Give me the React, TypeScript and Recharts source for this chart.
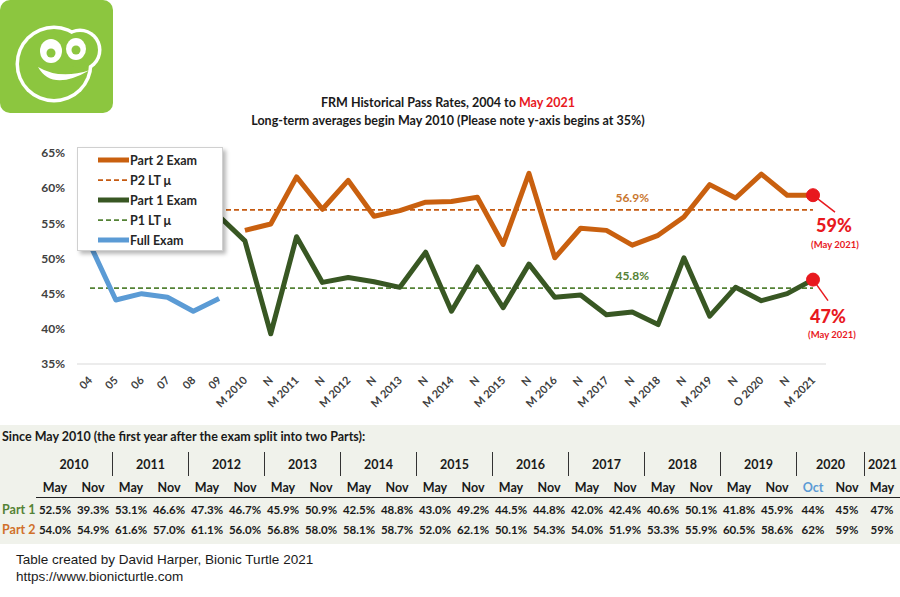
import React from 'react';
import { LineChart, Line, XAxis, YAxis, Legend, ReferenceLine, ReferenceDot } from 'recharts';

// x categories: single exam 2004-09, then May/Nov sittings (Oct in 2020)
const periods = ['04', '05', '06', '07', '08', '09', 'M 2010', 'N', 'M 2011', 'N', 'M 2012', 'N', 'M 2013', 'N', 'M 2014', 'N', 'M 2015', 'N', 'M 2016', 'N', 'M 2017', 'N', 'M 2018', 'N', 'M 2019', 'N', 'O 2020', 'N', 'M 2021'];

const fullExam = [52, 44.1, 45.0, 44.5, 42.5, 44.3];
const part1Nov2009 = 56; // first split sitting
const part1 = [52.5, 39.3, 53.1, 46.6, 47.3, 46.7, 45.9, 50.9, 42.5, 48.8, 43.0, 49.2, 44.5, 44.8, 42.0, 42.4, 40.6, 50.1, 41.8, 45.9, 44, 45, 47];
const part2 = [54.0, 54.9, 61.6, 57.0, 61.1, 56.0, 56.8, 58.0, 58.1, 58.7, 52.0, 62.1, 50.1, 54.3, 54.0, 51.9, 53.3, 55.9, 60.5, 58.6, 62, 59, 59];
const p1Avg = 45.8;
const p2Avg = 56.9;
const yTicks = [35, 40, 45, 50, 55, 60, 65];

const tableYears = ['2010', '2011', '2012', '2013', '2014', '2015', '2016', '2017', '2018', '2019', '2020', '2021'];
const tableMonths = ['May', 'Nov', 'May', 'Nov', 'May', 'Nov', 'May', 'Nov', 'May', 'Nov', 'May', 'Nov', 'May', 'Nov', 'May', 'Nov', 'May', 'Nov', 'May', 'Nov', 'Oct', 'Nov', 'May'];

const C_P2 = '#C9600F';
const C_P1 = '#385723';
const C_FULL = '#5B9BD5';
const C_P2_AVG = '#C55A11';
const C_P1_AVG = '#548235';
const RED = '#E8191E';
const FONT = 'Lato, "Open Sans", sans-serif';

const splitStart = periods.indexOf('M 2010');
const lastIdx = periods.length - 1;

const data = periods.map((p, i) => ({
  idx: i,
  full: i < fullExam.length ? fullExam[i] : null,
  p1: i >= splitStart ? part1[i - splitStart] : i === splitStart - 1 ? part1Nov2009 : null,
  p2: i >= splitStart ? part2[i - splitStart] : null,
}));

const legendItems = [
  { name: 'Part 2 Exam', color: C_P2, dashed: false },
  { name: 'P2 LT \u03bc', color: C_P2_AVG, dashed: true },
  { name: 'Part 1 Exam', color: C_P1, dashed: false },
  { name: 'P1 LT \u03bc', color: C_P1_AVG, dashed: true },
  { name: 'Full Exam', color: C_FULL, dashed: false },
];

const XTick = ({ x, y, payload }: any) => {
  const px = x + 3;
  const py = y + 17;
  return (
    <text x={px} y={py} transform={`rotate(-45 ${px} ${py})`} textAnchor="end"
      fill="#404040" fontSize={11} fontWeight={700} fontFamily={FONT}>
      {periods[payload.value]}
    </text>
  );
};

const LegendBox = () => (
  <div style={{
    width: 146, height: 104, background: '#fff', border: '1px solid #d0d0d0',
    boxShadow: '3px 3px 4px rgba(0,0,0,0.28)', paddingTop: 2, boxSizing: 'border-box',
  }}>
    {legendItems.map((it) => (
      <div key={it.name} style={{ display: 'flex', alignItems: 'center', height: 20 }}>
        <svg width={52} height={10} style={{ flex: 'none' }}>
          <line x1={20} y1={5} x2={51} y2={5} stroke={it.color}
            strokeWidth={it.dashed ? 1.75 : 5} strokeDasharray={it.dashed ? '5 3' : undefined} />
        </svg>
        <span style={{ fontFamily: FONT, fontWeight: 700, fontSize: 12.5, color: '#262626' }}>{it.name}</span>
      </div>
    ))}
  </div>
);

const Callout = ({ viewBox, big, lx, ly, tx, ty, sx, sy }: any) => {
  const cx = viewBox.x + viewBox.width / 2;
  const cy = viewBox.y + viewBox.height / 2;
  return (
    <g fontFamily={FONT} fontWeight={700} fill={RED} textAnchor="middle">
      <line x1={cx} y1={cy} x2={cx + lx} y2={cy + ly} stroke={RED} strokeWidth={1.5} />
      <text x={cx + tx} y={cy + ty} fontSize={18} fontWeight={900} dominantBaseline="central">{big}</text>
      <text x={cx + sx} y={cy + sy} fontSize={9.5} dominantBaseline="central">(May 2021)</text>
    </g>
  );
};

const Logo = () => (
  <svg width={114} height={114} style={{ position: 'absolute', left: 0, top: 0 }}>
    <rect x={0} y={0} width={113} height={113} rx={10} fill="#8CC63F" />
    <circle cx={54} cy={64} r={38.5} fill="#fff" />
    <circle cx={80} cy={50} r={21.5} fill="#fff" />
    <circle cx={54} cy={64} r={35} fill="#8CC63F" />
    <circle cx={80} cy={50} r={18} fill="#8CC63F" />
    <ellipse cx={51} cy={51} rx={11} ry={12} fill="#fff" />
    <ellipse cx={76} cy={49} rx={10} ry={11} fill="#fff" />
    <circle cx={51} cy={53} r={4.5} fill="#8CC63F" />
    <circle cx={76} cy={50} r={4.5} fill="#8CC63F" />
    <path d="M 38 67 Q 52 92 90 70 Q 60 80 38 67 Z" fill="#fff" />
  </svg>
);

const fmt = (v: number, i: number) => (i >= 20 ? v.toFixed(0) : v.toFixed(1)) + '%';

const colTemplate = '36px repeat(20, 38px) 34px 34px 36px';

const cell: React.CSSProperties = {
  display: 'flex', alignItems: 'center', justifyContent: 'center', height: 20,
};

const DataTable = () => (
  <div style={{
    position: 'absolute', left: 0, top: 425, width: 900, height: 119, background: '#F0F2EB',
    fontFamily: FONT, fontWeight: 700, fontSize: 11.5, color: '#1a1a1a',
  }}>
    <div style={{ position: 'absolute', left: 2, top: 3, fontSize: 12.5, lineHeight: '18px' }}>
      Since May 2010 (the first year after the exam split into two Parts):
    </div>
    <div style={{ position: 'absolute', left: 0, top: 27, width: 900, display: 'grid', gridTemplateColumns: colTemplate }}>
      <div />
      {tableYears.map((y, i) => (
        <div key={y} style={{
          ...cell, height: 24, gridColumn: i < 11 ? 'span 2' : 'span 1',
          borderLeft: i > 0 ? '1.5px solid #333' : 'none', fontSize: 12.5,
        }}>{y}</div>
      ))}
    </div>
    <div style={{ position: 'absolute', left: 0, top: 52, width: 900, display: 'grid', gridTemplateColumns: colTemplate }}>
      <div />
      {tableMonths.map((m, i) => (
        <div key={i} style={{ ...cell, borderBottom: '1.5px solid #222', fontSize: 12.5, color: m === 'Oct' ? '#5B9BD5' : '#1a1a1a' }}>{m}</div>
      ))}
    </div>
    <div style={{ position: 'absolute', left: 0, top: 74, width: 900, display: 'grid', gridTemplateColumns: colTemplate }}>
      <div style={{ ...cell, justifyContent: 'flex-start', paddingLeft: 2, color: C_P1_AVG, fontSize: 12.5 }}>Part 1</div>
      {part1.map((v, i) => <div key={i} style={cell}>{fmt(v, i)}</div>)}
    </div>
    <div style={{ position: 'absolute', left: 0, top: 94, width: 900, display: 'grid', gridTemplateColumns: colTemplate }}>
      <div style={{ ...cell, justifyContent: 'flex-start', paddingLeft: 2, color: '#D0702A', fontSize: 12.5 }}>Part 2</div>
      {part2.map((v, i) => <div key={i} style={cell}>{fmt(v, i)}</div>)}
    </div>
  </div>
);

export default function App() {
  return (
    <div style={{ position: 'absolute', left: 0, top: 0, width: 900, height: 597, background: '#fff', overflow: 'hidden' }}>
      <Logo />
      <div style={{ position: 'absolute', left: 0, top: 94, width: 896, textAlign: 'center', fontFamily: FONT, fontWeight: 700, fontSize: 12.5, color: '#1a1a1a', lineHeight: '18px' }}>
        <div>FRM Historical Pass Rates, 2004 to <span style={{ color: RED }}>May 2021</span></div>
        <div>Long-term averages begin May 2010 (Please note y-axis begins at 35%)</div>
      </div>
      <div style={{ position: 'absolute', left: 0, top: 0 }}>
        <LineChart width={900} height={430} data={data} margin={{ top: 153, right: 74, left: 27, bottom: 16 }}>
          <XAxis dataKey="idx" type="category" interval={0} tick={<XTick />} tickLine={false}
            padding={{ left: 13, right: 13 }}
            tickSize={0} tickMargin={0} axisLine={{ stroke: '#D9D9D9' }} height={50} />
          <YAxis domain={[35, 65]} ticks={yTicks} width={50} axisLine={false} tickLine={false}
            tickSize={0} tickMargin={12} tickFormatter={(v: number) => `${v}%`}
            tick={{ fill: '#404040', fontSize: 12, fontWeight: 700, fontFamily: FONT }} />
          <ReferenceLine segment={[{ x: 0, y: p2Avg }, { x: lastIdx, y: p2Avg }]} stroke={C_P2_AVG} strokeWidth={1.75} strokeDasharray="5 3" />
          <ReferenceLine segment={[{ x: 0, y: p1Avg }, { x: lastIdx, y: p1Avg }]} stroke={C_P1_AVG} strokeWidth={1.75} strokeDasharray="5 3" />
          <Line dataKey="full" stroke={C_FULL} strokeWidth={5} dot={false} isAnimationActive={false} strokeLinejoin="round" />
          <Line dataKey="p2" stroke={C_P2} strokeWidth={5} dot={false} isAnimationActive={false} strokeLinejoin="round" />
          <Line dataKey="p1" stroke={C_P1} strokeWidth={5} dot={false} isAnimationActive={false} strokeLinejoin="round" />
          <ReferenceDot x={21} y={p2Avg} r={0} label={{ value: `${p2Avg}%`, position: 'top', offset: 8, fill: '#C9772F', fontSize: 12, fontWeight: 700, fontFamily: FONT }} />
          <ReferenceDot x={21} y={p1Avg} r={0} label={{ value: `${p1Avg}%`, position: 'top', offset: 8, fill: C_P1_AVG, fontSize: 12, fontWeight: 700, fontFamily: FONT }} />
          <ReferenceDot x={lastIdx} y={part2[part2.length - 1]} r={6.5} fill={RED} stroke={RED}
            label={<Callout big={`${part2[part2.length - 1]}%`} lx={22} ly={17} tx={21} ty={30} sx={22} sy={49} />} />
          <ReferenceDot x={lastIdx} y={part1[part1.length - 1]} r={6.5} fill={RED} stroke={RED}
            label={<Callout big={`${part1[part1.length - 1]}%`} lx={15} ly={21} tx={15} ty={36} sx={19} sy={55} />} />
          <Legend layout="vertical" align="center" verticalAlign="middle" content={<LegendBox />}
            wrapperStyle={{ left: 77, top: 147, width: 148, height: 106 }} />
        </LineChart>
      </div>
      <DataTable />
      <div style={{ position: 'absolute', left: 16, top: 551, fontFamily: '"Liberation Sans", Arial, sans-serif', fontSize: 13.5, lineHeight: '17px', color: '#1a1a1a' }}>
        <div>Table created by David Harper, Bionic Turtle 2021</div>
        <div>https://www.bionicturtle.com</div>
      </div>
    </div>
  );
}
